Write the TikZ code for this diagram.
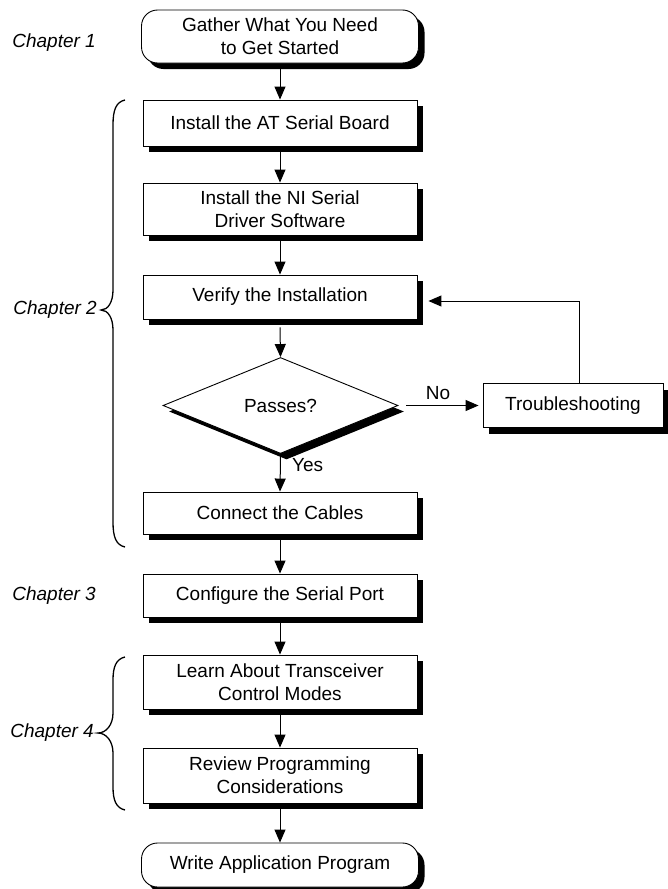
\documentclass[tikz,border=0pt]{standalone}
\usepackage{fontspec}
\setmainfont{Liberation Sans}
\usetikzlibrary{shapes.geometric,shadows,arrows.meta}
\tikzset{
 box/.style={draw, fill=white, line width=0.9pt, minimum width=274pt, inner sep=0pt, align=center,
   font=\fontsize{19}{23}\selectfont,
   drop shadow={shadow xshift=6pt, shadow yshift=-6pt, fill=black, opacity=1}},
 term/.style={box, rounded corners=16pt},
 dec/.style={box, diamond, minimum width=235pt, minimum height=96pt},
 arr/.style={line width=1pt, -{Triangle[width=11pt,length=13pt]}},
 chap/.style={font=\fontsize{19}{23}\selectfont\itshape, anchor=east, inner sep=0pt},
 lbl/.style={font=\fontsize{19}{23}\selectfont, inner sep=0pt},
 bracepath/.style={line width=1.3pt}
}
\begin{document}
\begin{tikzpicture}[x=1pt,y=-1pt]
\useasboundingbox (0,0) rectangle (668,889);
\clip (0,0) rectangle (668,889);
% nodes
\node[term, minimum width=277pt, minimum height=53pt] (g) at (280,36.5) {Gather What You Need\\to Get Started};
\node[box, minimum height=46pt] (at) at (280,123) {Install the AT Serial Board};
\node[box, minimum height=52pt] (ni) at (280,209) {Install the NI Serial\\Driver Software};
\node[box, minimum height=44pt] (ver) at (280,297) {Verify the Installation};
\node[dec] (dia) at (280.5,405.5) {Passes?};
\node[box, minimum width=180pt, minimum height=44pt] (ts) at (573,405.5) {Troubleshooting};
\node[box, minimum height=42pt] (con) at (280,513) {Connect the Cables};
\node[box, minimum height=43pt] (cfg) at (280,595.5) {Configure the Serial Port};
\node[box, minimum height=54pt] (lrn) at (280,682) {Learn About Transceiver\\Control Modes};
\node[box, minimum height=55pt] (rev) at (280,775.5) {Review Programming\\Considerations};
\node[term, minimum width=277pt, minimum height=44pt] (w) at (280,865) {Write Application Program};
% chapter labels
\node[chap] (c1) at (96,43) {Chapter 1};
\node[chap] (c2) at (97,310) {Chapter 2};
\node[chap] (c3) at (96,596) {Chapter 3};
\node[chap] (c4) at (94,733) {Chapter 4};
% edge labels
\node[lbl] (no) at (438,393) {No};
\node[lbl, anchor=west] (yes) at (292,465) {Yes};
% arrows
\draw[arr] ([yshift=-6pt]g.south) -- (at.north);
\draw[arr] ([yshift=-6pt]at.south) -- (ni.north);
\draw[arr] ([yshift=-6pt]ni.south) -- (ver.north);
\draw[arr] ([yshift=-8pt]ver.south) -- (dia.north);
\draw[arr] ([yshift=-3pt]dia.south) -- (con.north);
\draw[arr, shorten >=4pt] ([xshift=8pt]dia.east) -- (ts.west);
\draw[arr] ([xshift=6pt]ts.north) |- ([shift={(11pt,-4pt)}]ver.east);
\draw[arr] ([yshift=-6pt]con.south) -- (cfg.north);
\draw[arr] ([yshift=-6pt]cfg.south) -- (lrn.north);
\draw[arr] ([yshift=-6pt]lrn.south) -- (rev.north);
\draw[arr] ([yshift=-6pt]rev.south) -- (w.north);
% braces
\draw[bracepath] (125,100) .. controls (116,102) and (113,110) .. (113,125) -- (113,290)
  .. controls (113,302) and (108,310) .. (101,310)
  .. controls (108,310) and (113,318) .. (113,330) -- (113,522)
  .. controls (113,537) and (116,545) .. (125,547);
\draw[bracepath] (125,657) .. controls (116,659) and (113,667) .. (113,680) -- (113,713)
  .. controls (113,725) and (106,733) .. (98,733)
  .. controls (106,733) and (113,741) .. (113,753) -- (113,787)
  .. controls (113,800) and (116,808) .. (125,810);
\end{tikzpicture}
\end{document}
